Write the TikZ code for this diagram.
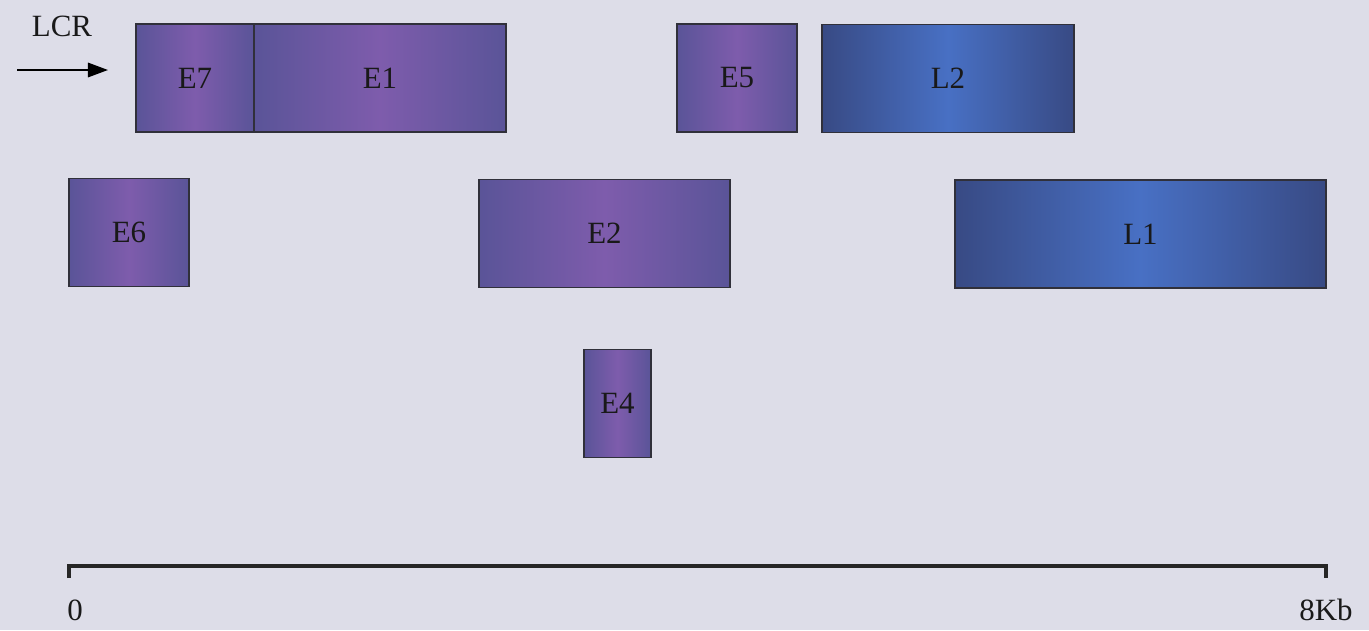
\documentclass[tikz,border=0pt]{standalone}
\usepackage{fontspec}
\setmainfont{Liberation Serif}
\usetikzlibrary{positioning,arrows.meta}

\definecolor{bgcol}{RGB}{221,221,232}
\definecolor{pedge}{RGB}{90,84,152}
\definecolor{pmid}{RGB}{126,92,172}
\definecolor{bedge}{RGB}{56,74,132}
\definecolor{bmid}{RGB}{72,112,196}
\definecolor{bordcol}{RGB}{48,48,58}

\begin{document}
\begin{tikzpicture}[
    x=0.25mm, y=-0.25mm,
    every node/.style={font=\fontsize{22}{26}\selectfont, text=black!90},
    eblk/.style={rectangle, draw=bordcol, line width=1.2pt, outer sep=0pt,
                 left color=pedge, right color=pedge, middle color=pmid,
                 minimum height=27mm, inner sep=0pt},
    lblk/.style={rectangle, draw=bordcol, line width=1.2pt, outer sep=0pt,
                 left color=bedge, right color=bedge, middle color=bmid,
                 minimum height=27mm, inner sep=0pt},
    arr/.style={-{Triangle[length=5mm, width=3.6mm]}, line width=1.3pt},
    scl/.style={line width=2.4pt, draw=black!85},
]
    \useasboundingbox[fill=bgcol] (0,0) rectangle (1369,630);
    %% top row
    \node[eblk, minimum width=29.5mm] (e7) at (195,78) {E7};
    \node[eblk, minimum width=63mm, right=0mm of e7] (e1) {E1};
    \node[eblk, minimum width=30mm] (e5) at (737,78) {E5};
    \node[lblk, minimum width=63mm] (l2) at (948,78.5) {L2};
    %% middle row
    \node[eblk, minimum width=30mm] (e6) at (129,232.5) {E6};
    \node[eblk, minimum width=62.75mm] (e2) at (604.5,233.5) {E2};
    \node[lblk, minimum width=92.75mm] (l1) at (1140.5,234) {L1};
    %% bottom row
    \node[eblk, minimum width=16.75mm] (e4) at (617.5,403.5) {E4};
    %% LCR arrow
    \node (lcr) at (62,26) {LCR};
    \coordinate (lcrs) at (17,70);
    \draw[arr] (lcrs) -- ([xshift=-7mm]e7.west |- lcrs);
    %% scale bar
    \coordinate (s0) at (69,566);
    \coordinate (s8) at (1326,566);
    \draw[scl] ([yshift=-3mm]s0) -- (s0) -- (s8) -- ([yshift=-3mm]s8);
    \node (zero) at (75,610) {0};
    \node (kb) at (1326,610) {8Kb};
\end{tikzpicture}
\end{document}
